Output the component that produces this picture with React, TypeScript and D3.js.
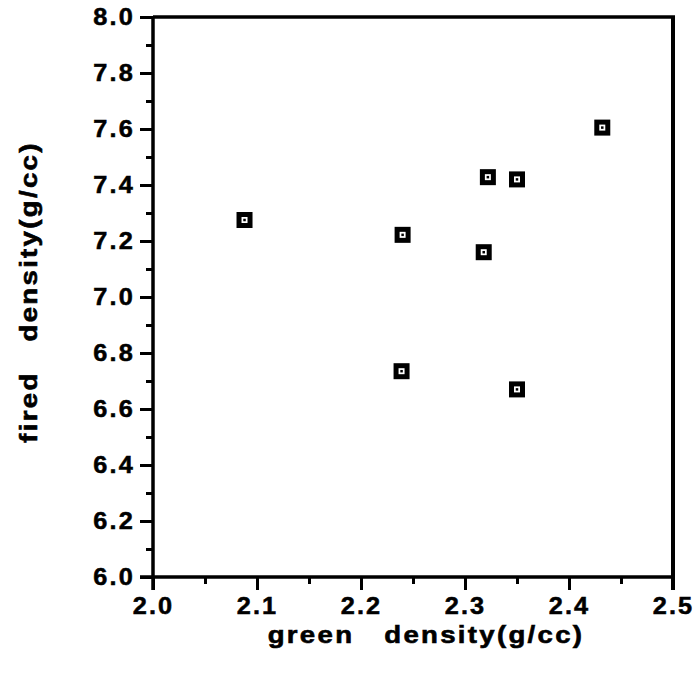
import React, { useRef, useEffect } from "react";
import * as d3 from "d3";

// green density vs fired density
const greenDensity = [2.088, 2.24, 2.322, 2.35, 2.318, 2.239, 2.35, 2.432];
const firedDensity = [7.275, 7.222, 7.428, 7.42, 7.16, 6.735, 6.67, 7.605];

const xMajorTicks = [2.0, 2.1, 2.2, 2.3, 2.4, 2.5];
const xMinorTicks = [2.05, 2.15, 2.25, 2.35, 2.45];
const yMajorTicks = [6.0, 6.2, 6.4, 6.6, 6.8, 7.0, 7.2, 7.4, 7.6, 7.8, 8.0];
const yMinorTicks = [6.1, 6.3, 6.5, 6.7, 6.9, 7.1, 7.3, 7.5, 7.7, 7.9];

const xTitle = "green   density(g/cc)";
const yTitle = "fired   density(g/cc)";

const W = 698;
const H = 685;
const FONT = "'Liberation Sans', Arial, Helvetica, sans-serif";

export default function App() {
  const ref = useRef<SVGGElement>(null);

  useEffect(() => {
    const g = d3.select(ref.current);
    g.selectAll("*").remove();

    const left = 153;
    const right = 673;
    const top = 17;
    const bottom = 577;

    const x = d3.scaleLinear().domain([2.0, 2.5]).range([left, right]);
    const y = d3.scaleLinear().domain([6.0, 8.0]).range([bottom, top]);

    // minor ticks, no labels
    g.append("g")
      .attr("transform", `translate(0,${bottom})`)
      .call(d3.axisBottom(x).tickValues(xMinorTicks).tickSize(7).tickFormat(() => ""));
    g.append("g")
      .attr("transform", `translate(${left},0)`)
      .call(d3.axisLeft(y).tickValues(yMinorTicks).tickSize(7).tickFormat(() => ""));

    const xAxis = g
      .append("g")
      .attr("transform", `translate(0,${bottom})`)
      .call(
        d3.axisBottom(x).tickValues(xMajorTicks).tickSize(13).tickPadding(8).tickFormat(d3.format(".1f"))
      );
    const yAxis = g
      .append("g")
      .attr("transform", `translate(${left},0)`)
      .call(
        d3.axisLeft(y).tickValues(yMajorTicks).tickSize(13).tickPadding(5).tickFormat(d3.format(".1f"))
      );

    g.selectAll(".domain").remove();
    g.selectAll(".tick line").attr("stroke", "#000").attr("stroke-width", 3);

    // the scanned lettering is wide and heavy: stretch a bit and add a thin stroke
    [xAxis, yAxis].forEach(a =>
      a
        .selectAll("text")
        .attr("fill", "#000")
        .attr("stroke", "#000")
        .attr("stroke-width", 0.5)
        .attr("font-family", FONT)
        .attr("font-weight", "bold")
        .attr("font-size", 23)
        .attr("letter-spacing", 2)
        .attr("transform", "scale(1.1,1)")
    );
    yAxis.selectAll("text").attr("x", -18 / 1.1);

    // frame: left and bottom lines run past the corner, like the original
    const frame = g.append("g").attr("stroke", "#000").attr("fill", "none");
    frame.append("line").attr("x1", left).attr("x2", left).attr("y1", top - 1).attr("y2", bottom + 13).attr("stroke-width", 3.5);
    frame.append("line").attr("x1", left - 13).attr("x2", right).attr("y1", bottom).attr("y2", bottom).attr("stroke-width", 3.5);
    frame.append("line").attr("x1", left).attr("x2", right + 2).attr("y1", top).attr("y2", top).attr("stroke-width", 3.5);
    frame.append("line").attr("x1", right).attr("x2", right).attr("y1", top).attr("y2", bottom + 13).attr("stroke-width", 4);

    // markers: solid black square with a tiny hollow box inside
    const pts = greenDensity.map((gd, i) => ({ gx: x(gd), fy: y(firedDensity[i]) }));
    const mk = g.append("g").selectAll("g").data(pts).join("g")
      .attr("transform", d => `translate(${d.gx},${d.fy})`);
    mk.append("rect").attr("x", -8).attr("y", -8).attr("width", 16).attr("height", 16).attr("fill", "#000");
    mk.append("rect").attr("x", -3).attr("y", -3).attr("width", 6).attr("height", 6).attr("fill", "#fff");
    mk.append("rect").attr("x", -1.25).attr("y", -1.25).attr("width", 2.5).attr("height", 2.5).attr("fill", "#000");

    const titleStyle = (t: d3.Selection<SVGTextElement, unknown, null, undefined>) =>
      t
        .attr("text-anchor", "middle")
        .attr("font-family", FONT)
        .attr("font-weight", "bold")
        .attr("font-size", 24)
        .attr("letter-spacing", 2)
        .attr("fill", "#000")
        .attr("stroke", "#000")
        .attr("stroke-width", 0.6)
        .style("white-space", "pre");

    g.append("text")
      .attr("transform", "translate(426,643) scale(1.15,1)")
      .call(titleStyle)
      .text(xTitle);

    g.append("text")
      .attr("transform", "translate(37,292) rotate(-90) scale(1.15,1)")
      .call(titleStyle)
      .text(yTitle);
  }, []);

  return (
    <svg
      width={W}
      height={H}
      style={{ position: "absolute", left: 0, top: 0, background: "#fff" }}
    >
      <g ref={ref} />
    </svg>
  );
}
